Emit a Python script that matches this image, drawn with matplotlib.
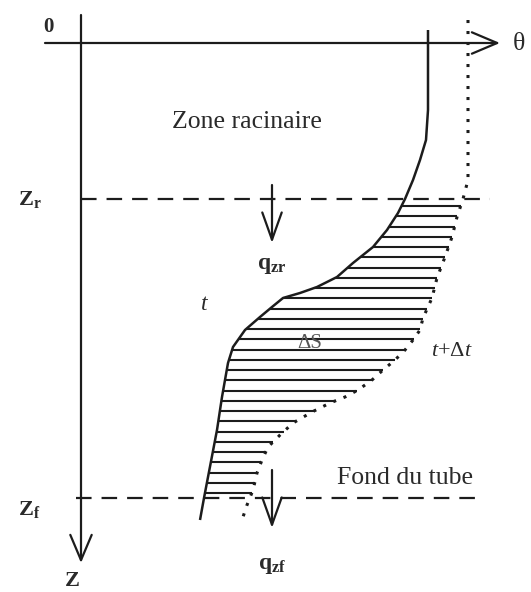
import numpy as np
import matplotlib
matplotlib.use("Agg")
import matplotlib.pyplot as plt

plt.rcParams['font.family'] = ['Liberation Serif', 'DejaVu Serif']
plt.rcParams['mathtext.fontset'] = 'custom'
plt.rcParams['mathtext.rm'] = 'Liberation Serif'
plt.rcParams['mathtext.bf'] = 'Liberation Serif:bold'
plt.rcParams['mathtext.it'] = 'Liberation Serif:italic'

# Profile at time t (depth z, water content theta) in diagram units
z_t = [30, 110, 140, 160, 180, 199, 213, 230, 247, 263, 277, 287, 293, 298,
       307, 317, 330, 347, 363, 397, 430, 498, 520]
theta_t = [428, 428, 426, 420, 413, 405, 398, 387, 373, 353, 337, 317, 300, 283,
           272, 260, 245, 233, 228, 222, 217, 204, 200]

# Profile at time t + dt
z_tdt = [20, 180, 199, 217, 237, 257, 278, 298, 318, 330, 340, 350, 360, 370,
         380, 390, 397, 403, 412, 423, 435, 447, 460, 473, 490, 505, 517]
theta_tdt = [468, 468, 463, 457, 452, 445, 437, 432, 423, 420, 413, 405, 395, 383,
             372, 358, 345, 330, 312, 293, 280, 268, 262, 257, 253, 247, 243]

# Reference depths
z_r = 199
z_f = 498
z_hatch_top, z_hatch_bot, hatch_step = 206, 494, 10.25

ink = '#1c1c1c'
txt = '#2a2a2a'

fig = plt.figure(figsize=(5.31, 5.92), dpi=100)
ax = fig.add_axes([0, 0, 1, 1])
ax.set_xlim(0, 531)
ax.set_ylim(592, 0)
ax.axis('off')

# axes
ax.annotate('', xy=(500, 43), xytext=(45, 43),
            arrowprops=dict(arrowstyle='->,head_length=1.3,head_width=0.55',
                            lw=1.6, color=ink, mutation_scale=14, shrinkA=0, shrinkB=0))
ax.annotate('', xy=(81, 563), xytext=(81, 15),
            arrowprops=dict(arrowstyle='->,head_length=1.3,head_width=0.55',
                            lw=1.6, color=ink, mutation_scale=14, shrinkA=0, shrinkB=0))

# dashed depth lines
ax.plot([81, 490], [z_r, z_r], color=ink, lw=1.6, dashes=(7, 4.5))
ax.plot([76, 483], [z_f, z_f], color=ink, lw=1.6, dashes=(7, 4.5))

# hatching between profiles
zh = np.arange(z_hatch_top, z_hatch_bot, hatch_step)
x_left = np.interp(zh, z_t, theta_t)
x_right = np.interp(zh, z_tdt, theta_tdt)
ax.hlines(zh, x_left, x_right, color=ink, lw=1.5)

# profiles
ax.plot(theta_t, z_t, color=ink, lw=1.8, solid_capstyle='butt')
ax.plot(theta_tdt, z_tdt, color=ink, lw=2.2, linestyle=(0, (1, 2.6)))

# flux arrows
for zs, ze in [(185, 243), (470, 528)]:
    ax.annotate('', xy=(272, ze), xytext=(272, zs),
                arrowprops=dict(arrowstyle='->,head_length=1.4,head_width=0.5',
                                lw=1.6, color=ink, mutation_scale=14, shrinkA=0, shrinkB=0))

# texts
fs = 18.5
ax.text(247, 122, 'Zone racinaire', fontsize=fs, color=txt, ha='center', va='center')
ax.text(405, 478, 'Fond du tube', fontsize=fs, color=txt, ha='center', va='center')
ax.text(513, 44, 'θ', fontsize=fs, color=txt, ha='left', va='center')
ax.text(48, 27, '0', fontsize=15, color=txt, ha='center', va='center', fontweight='bold')
ax.text(18, 200, r'$\mathbf{Z}_{\mathbf{r}}$', fontsize=16, color=txt, ha='left', va='center')
ax.text(18, 510, r'$\mathbf{Z}_{\mathbf{f}}$', fontsize=16, color=txt, ha='left', va='center')
ax.text(72, 582, r'$\mathbf{Z}$', fontsize=16, color=txt, ha='center', va='center')
ax.text(272, 265, r'$\mathbf{q}_{\mathbf{zr}}$', fontsize=17, color=txt, ha='center', va='center')
ax.text(272, 566, r'$\mathbf{q}_{\mathbf{zf}}$', fontsize=17, color=txt, ha='center', va='center')
ax.text(205, 305, r'$\mathit{t}$', fontsize=17, color=txt, ha='center', va='center')
ax.text(452, 352, r'$\mathit{t}\mathrm{+}\mathit{\Delta t}$', fontsize=16, color=txt, ha='center', va='center')
ax.text(310, 343, 'ΔS', fontsize=15, color='#555555', ha='center', va='center')

fig.savefig('out.png', dpi=100)
